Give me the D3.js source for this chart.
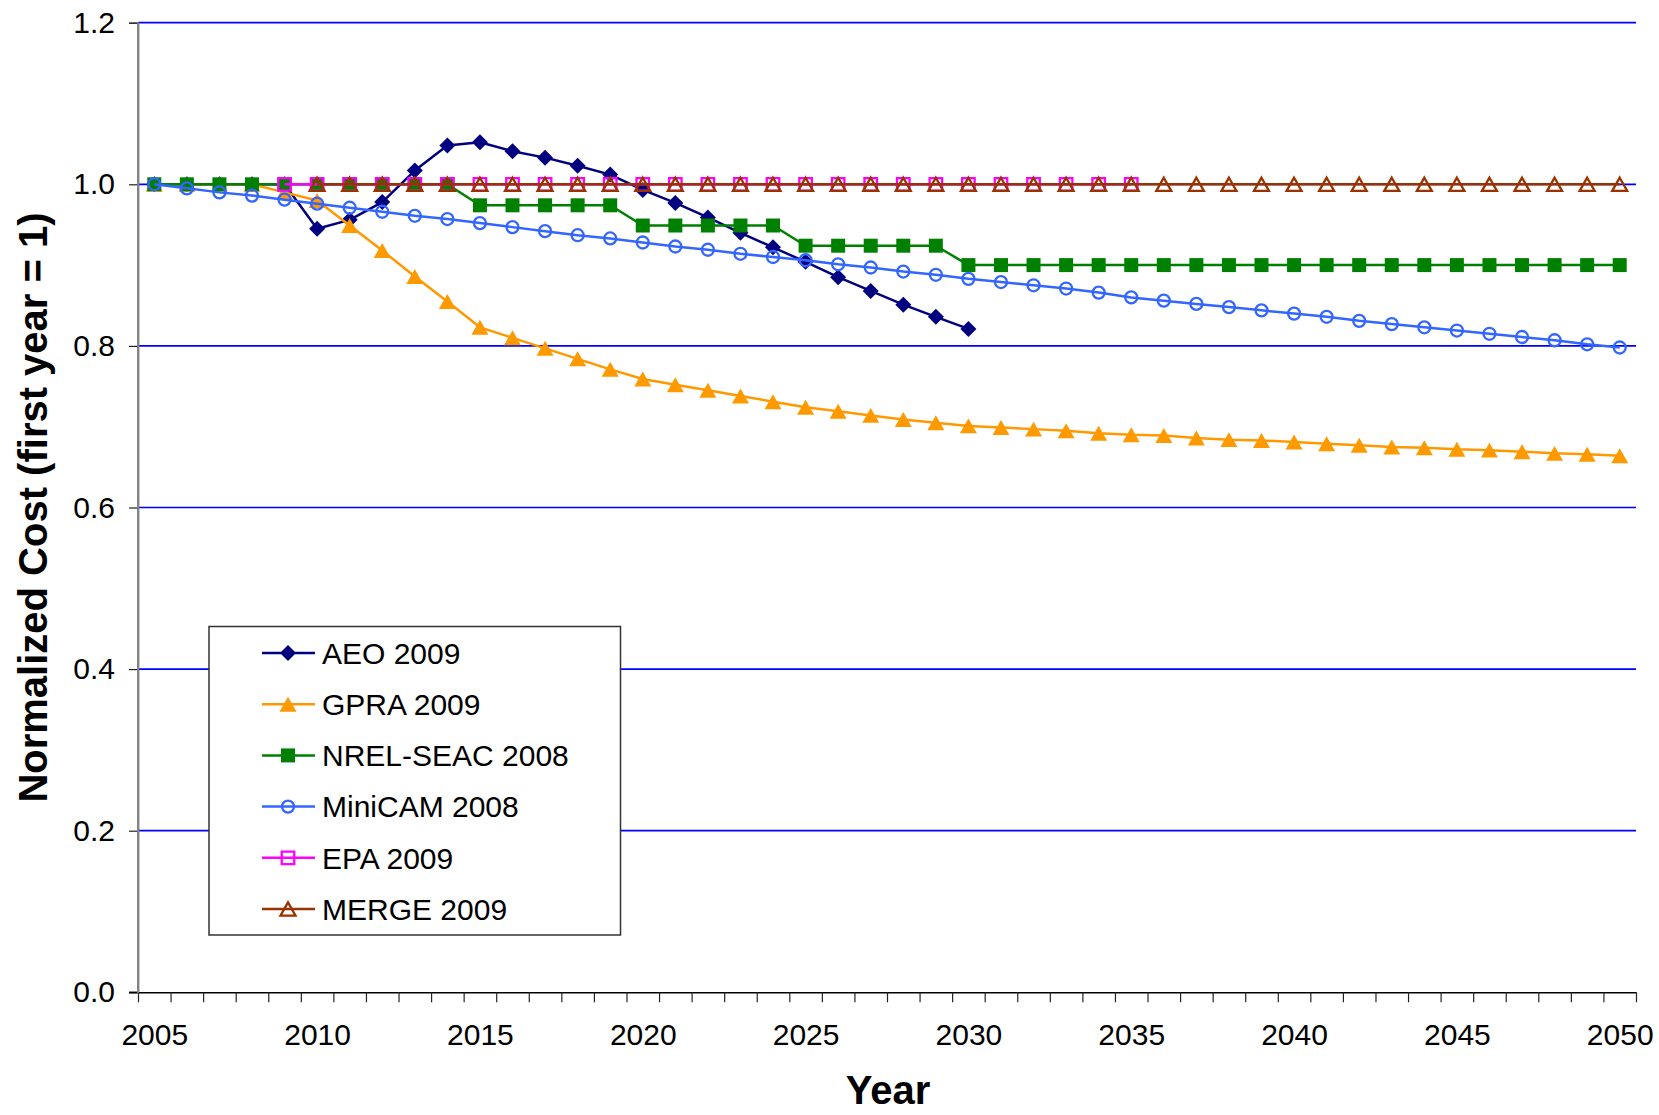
<!DOCTYPE html>
<html><head><meta charset="utf-8">
<script src="https://cdn.jsdelivr.net/npm/d3@7"></script>
<style>
body{margin:0;background:#fff}
svg{display:block}
text{font-family:"Liberation Sans",Arial,Helvetica,sans-serif;fill:#000}
</style>
</head><body>
<svg id="chart" width="1659" height="1115"></svg>
<script>
// ---------- DATA ----------
const years = d3.range(2005, 2051);           // category axis 2005..2050
const xLabelYears = [2005, 2010, 2015, 2020, 2025, 2030, 2035, 2040, 2045, 2050];
const yTicks = [0, 0.2, 0.4, 0.6, 0.8, 1.0, 1.2];

const seriesNames = ["AEO 2009", "GPRA 2009", "NREL-SEAC 2008", "MiniCAM 2008", "EPA 2009", "MERGE 2009"];

const aeoStart = 2005;
const aeoValues = [1.000, 1.000, 1.000, 1.000, 1.000, 0.945, 0.956, 0.978, 1.017, 1.048,
                   1.052, 1.041, 1.033, 1.023, 1.012, 0.993, 0.977, 0.959, 0.940, 0.922,
                   0.904, 0.885, 0.868, 0.851, 0.836, 0.821];

const gpraStart = 2005;
const gpraValues = [1.000, 1.000, 1.000, 1.000, 0.990, 0.980, 0.949, 0.918, 0.886, 0.855,
                    0.823, 0.810, 0.797, 0.784, 0.771, 0.759, 0.752, 0.745, 0.738, 0.731,
                    0.724, 0.719, 0.714, 0.709, 0.705, 0.701, 0.699, 0.697, 0.695, 0.692,
                    0.690, 0.689, 0.686, 0.684, 0.683, 0.681, 0.679, 0.677, 0.675, 0.674,
                    0.672, 0.671, 0.669, 0.667, 0.666, 0.664];

const nrelStart = 2005;
const nrelValues = [1.000, 1.000, 1.000, 1.000, 1.000, 1.000, 1.000, 1.000, 1.000, 1.000,
                    0.974, 0.974, 0.974, 0.974, 0.974, 0.949, 0.949, 0.949, 0.949, 0.949,
                    0.924, 0.924, 0.924, 0.924, 0.924, 0.900, 0.900, 0.900, 0.900, 0.900,
                    0.900, 0.900, 0.900, 0.900, 0.900, 0.900, 0.900, 0.900, 0.900, 0.900,
                    0.900, 0.900, 0.900, 0.900, 0.900, 0.900];

const minicamStart = 2005;
const minicamValues = [1.000, 0.995, 0.990, 0.986, 0.981, 0.976, 0.971, 0.966, 0.961, 0.957,
                       0.952, 0.947, 0.942, 0.937, 0.933, 0.928, 0.923, 0.919, 0.914, 0.910,
                       0.906, 0.901, 0.897, 0.892, 0.888, 0.883, 0.879, 0.875, 0.871, 0.866,
                       0.860, 0.856, 0.852, 0.848, 0.844, 0.840, 0.836, 0.831, 0.827, 0.823,
                       0.819, 0.815, 0.811, 0.807, 0.802, 0.798];

const epaStart = 2009;
const epaValues = [1.000, 1.000, 1.000, 1.000, 1.000, 1.000, 1.000, 1.000, 1.000, 1.000,
                   1.000, 1.000, 1.000, 1.000, 1.000, 1.000, 1.000, 1.000, 1.000, 1.000,
                   1.000, 1.000, 1.000, 1.000, 1.000, 1.000, 1.000];

const mergeStart = 2010;
const mergeValues = [1.000, 1.000, 1.000, 1.000, 1.000, 1.000, 1.000, 1.000, 1.000, 1.000,
                     1.000, 1.000, 1.000, 1.000, 1.000, 1.000, 1.000, 1.000, 1.000, 1.000,
                     1.000, 1.000, 1.000, 1.000, 1.000, 1.000, 1.000, 1.000, 1.000, 1.000,
                     1.000, 1.000, 1.000, 1.000, 1.000, 1.000, 1.000, 1.000, 1.000, 1.000,
                     1.000];

// ---------- STYLES ----------
const styles = [
  {color: "#000080", marker: "diamond",  filled: true},
  {color: "#FF9900", marker: "triangle", filled: true},
  {color: "#008000", marker: "square",   filled: true},
  {color: "#3366FF", marker: "circle",   filled: false},
  {color: "#FF00FF", marker: "square",   filled: false},
  {color: "#993300", marker: "triangle", filled: false}
];
const starts = [aeoStart, gpraStart, nrelStart, minicamStart, epaStart, mergeStart];
const valueArrays = [aeoValues, gpraValues, nrelValues, minicamValues, epaValues, mergeValues];
const series = seriesNames.map((name, i) => ({
  name, ...styles[i],
  points: valueArrays[i].map((v, j) => ({year: starts[i] + j, value: v}))
}));

// ---------- LAYOUT ----------
const svg = d3.select("#chart");
const plot = {left: 138, right: 1636, top: 22.7, bottom: 992.3};
const x = d3.scaleLinear().domain([years[0] - 0.5, years[years.length - 1] + 0.5]).range([plot.left, plot.right]);
const y = d3.scaleLinear().domain([0, 1.2]).range([plot.bottom, plot.top]);

// gridlines
svg.append("g").selectAll("line").data(yTicks.filter(t => t > 0)).join("line")
  .attr("x1", plot.left).attr("x2", plot.right)
  .attr("y1", d => y(d)).attr("y2", d => y(d))
  .attr("stroke", "#0000FF").attr("stroke-width", 1.7);

// y axis
const yAxis = d3.axisLeft(y).tickValues(yTicks).tickFormat(d3.format(".1f")).tickSize(9).tickPadding(14);
const gy = svg.append("g").attr("transform", `translate(${plot.left},0)`).call(yAxis);
gy.select(".domain").attr("stroke", "#808080").attr("stroke-width", 1.8);
gy.selectAll(".tick line").attr("stroke", "#222").attr("stroke-width", 1.2);
gy.selectAll(".tick text").attr("font-size", 30).attr("font-family", "Liberation Sans, Arial, sans-serif").attr("fill", "#000");

// x axis: ticks at category boundaries, labels every 5 years at category centres
const boundaries = years.map(yr => yr - 0.5).concat([years[years.length - 1] + 0.5]);
const xAxisTicks = d3.axisBottom(x).tickValues(boundaries).tickFormat("").tickSize(10).tickSizeOuter(0);
const gx = svg.append("g").attr("transform", `translate(0,${plot.bottom})`).call(xAxisTicks);
gx.select(".domain").attr("stroke", "#000").attr("stroke-width", 1.5);
gx.selectAll(".tick line").attr("stroke", "#222").attr("stroke-width", 1.2);
svg.append("line").attr("x1", plot.left - 9).attr("x2", plot.left).attr("y1", plot.bottom).attr("y2", plot.bottom)
  .attr("stroke", "#000").attr("stroke-width", 1.5);
svg.append("line").attr("x1", plot.left).attr("x2", plot.left).attr("y1", plot.top).attr("y2", plot.bottom + 1)
  .attr("stroke", "#808080").attr("stroke-width", 1.8);

const xAxisLabels = d3.axisBottom(x).tickValues(xLabelYears).tickFormat(d3.format("d")).tickSize(0).tickPadding(0);
const gxl = svg.append("g").attr("transform", `translate(0,${plot.bottom})`).call(xAxisLabels);
gxl.select(".domain").remove();
gxl.selectAll(".tick text").attr("font-size", 30).attr("dy", null).attr("y", 53)
  .attr("font-family", "Liberation Sans, Arial, sans-serif").attr("fill", "#000");

// axis titles
svg.append("text").attr("x", (plot.left + plot.right) / 2 + 1).attr("y", 1104)
  .attr("text-anchor", "middle").attr("font-size", 40).attr("font-weight", "bold").text("Year");
svg.append("text").attr("transform", `translate(47,${(plot.top + plot.bottom) / 2}) rotate(-90)`)
  .attr("text-anchor", "middle").attr("font-size", 40).attr("font-weight", "bold")
  .text("Normalized Cost (first year = 1)");

// ---------- MARKERS ----------
const symDiamond = {draw(ctx, size) { const r = Math.sqrt(size) / 2; ctx.moveTo(0, -r); ctx.lineTo(r, 0); ctx.lineTo(0, r); ctx.lineTo(-r, 0); ctx.closePath(); }};
const symTri = {draw(ctx, size) { const w = Math.sqrt(size); const h = w * 0.88; ctx.moveTo(0, -h / 2); ctx.lineTo(w / 2, h / 2); ctx.lineTo(-w / 2, h / 2); ctx.closePath(); }};
const symSquare = {draw(ctx, size) { const s = Math.sqrt(size) / 2; ctx.rect(-s, -s, 2 * s, 2 * s); }};
const symCircle = {draw(ctx, size) { const r = Math.sqrt(size) / 2; ctx.moveTo(r, 0); ctx.arc(0, 0, r, 0, 2 * Math.PI); }};

function markerPath(s) {
  if (s.marker === "diamond") return d3.symbol().type(symDiamond).size(16 * 16)();
  if (s.marker === "triangle") return s.filled ? d3.symbol().type(symTri).size(17 * 17)() : d3.symbol().type(symTri).size(15 * 15)();
  if (s.marker === "square") return s.filled ? d3.symbol().type(symSquare).size(14 * 14)() : d3.symbol().type(symSquare).size(12.5 * 12.5)();
  return d3.symbol().type(symCircle).size(12 * 12)();
}
function styleMarker(sel, s) {
  sel.attr("d", markerPath(s))
    .attr("fill", s.filled ? s.color : "none")
    .attr("stroke", s.filled ? "none" : s.color)
    .attr("stroke-width", s.filled ? 0 : 2.3);
}

const line = d3.line().x(d => x(d.year)).y(d => y(d.value));
const gs = svg.append("g");
series.forEach(s => {
  const g = gs.append("g");
  g.append("path").datum(s.points).attr("d", line).attr("fill", "none")
    .attr("stroke", s.color).attr("stroke-width", 2.5).attr("stroke-linejoin", "round");
  g.selectAll("path.m").data(s.points).join("path").attr("class", "m")
    .attr("transform", d => `translate(${x(d.year)},${y(d.value)})`)
    .call(sel => styleMarker(sel, s));
});

// ---------- LEGEND ----------
const leg = svg.append("g");
leg.append("rect").attr("x", 209).attr("y", 626.5).attr("width", 411.5).attr("height", 308.5)
  .attr("fill", "#fff").attr("stroke", "#333").attr("stroke-width", 1.5);
const legY = d3.scalePoint().domain(seriesNames).range([653, 909]);
series.forEach(s => {
  const yy = legY(s.name);
  leg.append("line").attr("x1", 262).attr("x2", 315).attr("y1", yy).attr("y2", yy)
    .attr("stroke", s.color).attr("stroke-width", 2.5);
  leg.append("path").attr("transform", `translate(288,${yy})`).call(sel => styleMarker(sel, s));
  leg.append("text").attr("x", 322).attr("y", yy).attr("dy", "0.36em")
    .attr("font-size", 30).text(s.name);
});
</script>
</body></html>
